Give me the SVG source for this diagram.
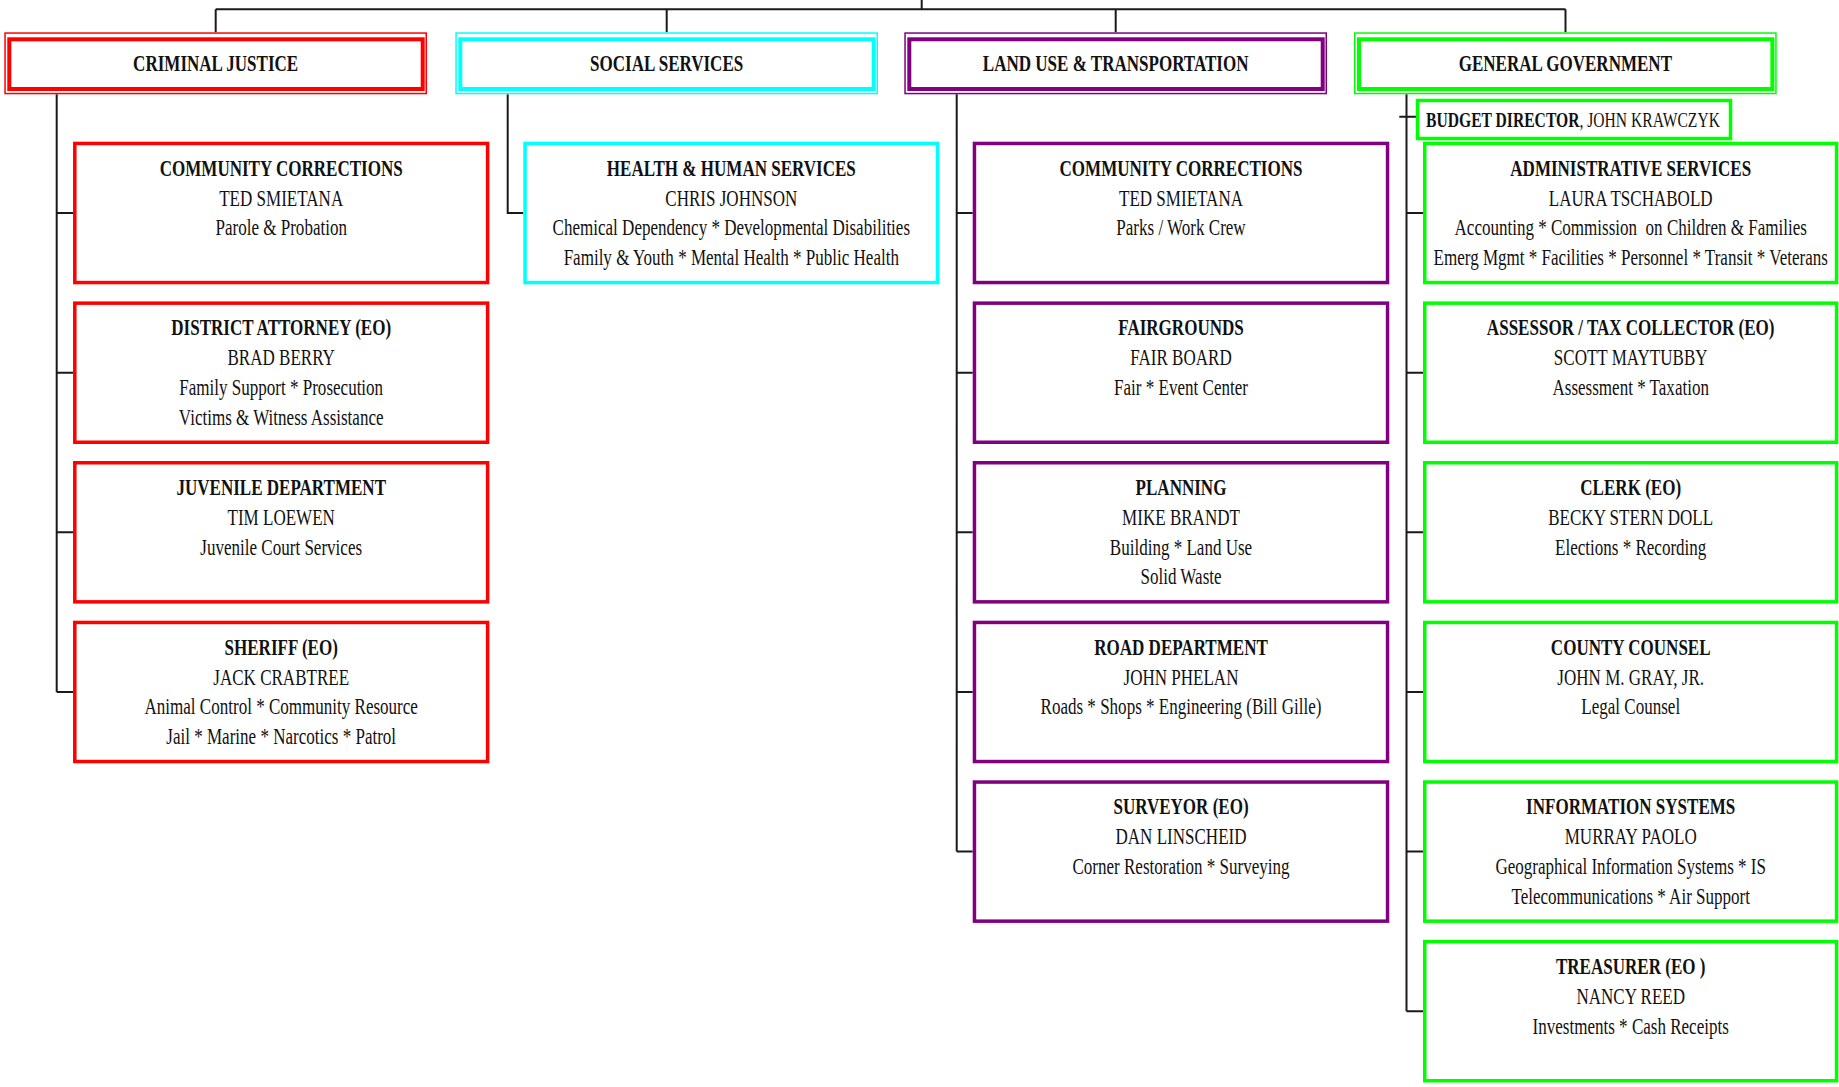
<svg xmlns="http://www.w3.org/2000/svg" width="1839" height="1087" viewBox="0 0 1839 1087">
<style>
.ho{fill:none;stroke-width:1.5}
.hi{fill:#fff;stroke-width:4}
.bx{fill:#fff;stroke-width:3.5}
.red{stroke:#FF0000}
.cyan{stroke:#00FFFF}
.purp{stroke:#800080}
.green{stroke:#00FF00}
.t{font-family:"Liberation Serif","Times New Roman",serif;font-size:24px;text-anchor:middle;fill:#111}
.b{font-weight:bold}
.conn{stroke:#1a1a1a;stroke-width:2;fill:none}
</style>
<rect width="1839" height="1087" fill="#fff"/>
<g id="connectors" class="conn">
<path d="M921.7,0 V9.3 M215.7,9.3 H1565.5 M215.7,9.3 V32.3 M666.7,9.3 V32.3 M1115.7,9.3 V32.3 M1565.5,9.3 V32.3"/>
<path d="M56.7,94.3 V692 M56.7,213 H73 M56.7,372.7 H73 M56.7,532.3 H73 M56.7,692 H73"/>
<path d="M507.7,94.3 V213 H523.3"/>
<path d="M956.7,94.3 V851.6 M956.7,213 H972.7 M956.7,372.7 H972.7 M956.7,532.3 H972.7 M956.7,692 H972.7 M956.7,851.6 H972.7"/>
<path d="M1406.5,94.3 V1011.2 M1399.3,116.7 H1416 M1406.5,213 H1423 M1406.5,372.7 H1423 M1406.5,532.3 H1423 M1406.5,692 H1423 M1406.5,851.6 H1423 M1406.5,1011.2 H1423"/>
</g>

<g id="hdr-criminal-justice">
<rect class="ho red" x="5.05" y="33.05" width="421.2" height="60.5"/>
<rect class="hi red" x="9.3" y="39.3" width="413.4" height="49.7"/>
<g transform="translate(215.65,0) scale(0.71,1)"><text class="t b" x="0" y="71">CRIMINAL JUSTICE</text></g>
</g>
<g id="hdr-social-services">
<rect class="ho cyan" x="456.05" y="33.05" width="421.2" height="60.5"/>
<rect class="hi cyan" x="460.3" y="39.3" width="413.4" height="49.7"/>
<g transform="translate(666.65,0) scale(0.71,1)"><text class="t b" x="0" y="71">SOCIAL SERVICES</text></g>
</g>
<g id="hdr-land-use">
<rect class="ho purp" x="905.05" y="33.05" width="421.2" height="60.5"/>
<rect class="hi purp" x="909.3" y="39.3" width="413.4" height="49.7"/>
<g transform="translate(1115.65,0) scale(0.71,1)"><text class="t b" x="0" y="71">LAND USE &amp; TRANSPORTATION</text></g>
</g>
<g id="hdr-general-government">
<rect class="ho green" x="1354.75" y="33.05" width="421.2" height="60.5"/>
<rect class="hi green" x="1359" y="39.3" width="413.4" height="49.7"/>
<g transform="translate(1565.35,0) scale(0.71,1)"><text class="t b" x="0" y="71">GENERAL GOVERNMENT</text></g>
</g>

<!-- Criminal Justice -->
<g id="cj-community-corrections">
<rect class="bx red" x="74.8" y="143.45" width="412.8" height="139.1"/>
<g transform="translate(281.2,0) scale(0.71,1)">
<text class="t b" x="0" y="175.7">COMMUNITY CORRECTIONS</text>
<text class="t" x="0" y="205.7">TED SMIETANA</text>
<text class="t" x="0" y="235.4">Parole &amp; Probation</text>
</g></g>
<g id="cj-district-attorney">
<rect class="bx red" x="74.8" y="303.15" width="412.8" height="139.1"/>
<g transform="translate(281.2,0) scale(0.71,1)">
<text class="t b" x="0" y="335.4">DISTRICT ATTORNEY (EO)</text>
<text class="t" x="0" y="365.4">BRAD BERRY</text>
<text class="t" x="0" y="395.1">Family Support * Prosecution</text>
<text class="t" x="0" y="424.7">Victims &amp; Witness Assistance</text>
</g></g>
<g id="cj-juvenile">
<rect class="bx red" x="74.8" y="462.75" width="412.8" height="139.1"/>
<g transform="translate(281.2,0) scale(0.71,1)">
<text class="t b" x="0" y="495">JUVENILE DEPARTMENT</text>
<text class="t" x="0" y="525">TIM LOEWEN</text>
<text class="t" x="0" y="554.7">Juvenile Court Services</text>
</g></g>
<g id="cj-sheriff">
<rect class="bx red" x="74.8" y="622.45" width="412.8" height="139.1"/>
<g transform="translate(281.2,0) scale(0.71,1)">
<text class="t b" x="0" y="654.7">SHERIFF (EO)</text>
<text class="t" x="0" y="684.7">JACK CRABTREE</text>
<text class="t" x="0" y="714.4">Animal Control * Community Resource</text>
<text class="t" x="0" y="744">Jail * Marine * Narcotics * Patrol</text>
</g></g>

<!-- Social Services -->
<g id="ss-health-human-services">
<rect class="bx cyan" x="525.05" y="143.45" width="412.5" height="139.1"/>
<g transform="translate(731.3,0) scale(0.71,1)">
<text class="t b" x="0" y="175.7">HEALTH &amp; HUMAN SERVICES</text>
<text class="t" x="0" y="205.7">CHRIS JOHNSON</text>
<text class="t" x="0" y="235.4">Chemical Dependency * Developmental Disabilities</text>
<text class="t" x="0" y="265">Family &amp; Youth * Mental Health * Public Health</text>
</g></g>

<!-- Land Use -->
<g id="lu-community-corrections">
<rect class="bx purp" x="974.45" y="143.45" width="413.1" height="139.1"/>
<g transform="translate(1181,0) scale(0.71,1)">
<text class="t b" x="0" y="175.7">COMMUNITY CORRECTIONS</text>
<text class="t" x="0" y="205.7">TED SMIETANA</text>
<text class="t" x="0" y="235.4">Parks / Work Crew</text>
</g></g>
<g id="lu-fairgrounds">
<rect class="bx purp" x="974.45" y="303.15" width="413.1" height="139.1"/>
<g transform="translate(1181,0) scale(0.71,1)">
<text class="t b" x="0" y="335.4">FAIRGROUNDS</text>
<text class="t" x="0" y="365.4">FAIR BOARD</text>
<text class="t" x="0" y="395.1">Fair * Event Center</text>
</g></g>
<g id="lu-planning">
<rect class="bx purp" x="974.45" y="462.75" width="413.1" height="139.1"/>
<g transform="translate(1181,0) scale(0.71,1)">
<text class="t b" x="0" y="495">PLANNING</text>
<text class="t" x="0" y="525">MIKE BRANDT</text>
<text class="t" x="0" y="554.7">Building * Land Use</text>
<text class="t" x="0" y="584.3">Solid Waste</text>
</g></g>
<g id="lu-road-department">
<rect class="bx purp" x="974.45" y="622.45" width="413.1" height="139.1"/>
<g transform="translate(1181,0) scale(0.71,1)">
<text class="t b" x="0" y="654.7">ROAD DEPARTMENT</text>
<text class="t" x="0" y="684.7">JOHN PHELAN</text>
<text class="t" x="0" y="714.4">Roads * Shops * Engineering (Bill Gille)</text>
</g></g>
<g id="lu-surveyor">
<rect class="bx purp" x="974.45" y="782.05" width="413.1" height="139.1"/>
<g transform="translate(1181,0) scale(0.71,1)">
<text class="t b" x="0" y="814.3">SURVEYOR (EO)</text>
<text class="t" x="0" y="844.3">DAN LINSCHEID</text>
<text class="t" x="0" y="874">Corner Restoration * Surveying</text>
</g></g>

<!-- General Government -->
<g id="gg-budget-director">
<rect class="bx green" x="1417.5" y="100.5" width="313" height="38" stroke-width="3"/>
<g transform="translate(1573,0) scale(0.71,1)">
<text class="t" x="0" y="126.7" style="font-size:22px"><tspan class="b">BUDGET DIRECTOR</tspan>, JOHN KRAWCZYK</text>
</g></g>
<g id="gg-administrative-services">
<rect class="bx green" x="1424.75" y="143.45" width="411.8" height="139.1"/>
<g transform="translate(1630.7,0) scale(0.71,1)">
<text class="t b" x="0" y="175.7">ADMINISTRATIVE SERVICES</text>
<text class="t" x="0" y="205.7">LAURA TSCHABOLD</text>
<text class="t" x="0" y="235.4">Accounting * Commission &#160;on Children &amp; Families</text>
<text class="t" x="0" y="265">Emerg Mgmt * Facilities * Personnel * Transit * Veterans</text>
</g></g>
<g id="gg-assessor">
<rect class="bx green" x="1424.75" y="303.15" width="411.8" height="139.1"/>
<g transform="translate(1630.7,0) scale(0.71,1)">
<text class="t b" x="0" y="335.4">ASSESSOR / TAX COLLECTOR (EO)</text>
<text class="t" x="0" y="365.4">SCOTT MAYTUBBY</text>
<text class="t" x="0" y="395.1">Assessment * Taxation</text>
</g></g>
<g id="gg-clerk">
<rect class="bx green" x="1424.75" y="462.75" width="411.8" height="139.1"/>
<g transform="translate(1630.7,0) scale(0.71,1)">
<text class="t b" x="0" y="495">CLERK (EO)</text>
<text class="t" x="0" y="525">BECKY STERN DOLL</text>
<text class="t" x="0" y="554.7">Elections * Recording</text>
</g></g>
<g id="gg-county-counsel">
<rect class="bx green" x="1424.75" y="622.45" width="411.8" height="139.1"/>
<g transform="translate(1630.7,0) scale(0.71,1)">
<text class="t b" x="0" y="654.7">COUNTY COUNSEL</text>
<text class="t" x="0" y="684.7">JOHN M. GRAY, JR.</text>
<text class="t" x="0" y="714.4">Legal Counsel</text>
</g></g>
<g id="gg-information-systems">
<rect class="bx green" x="1424.75" y="782.05" width="411.8" height="139.1"/>
<g transform="translate(1630.7,0) scale(0.71,1)">
<text class="t b" x="0" y="814.3">INFORMATION SYSTEMS</text>
<text class="t" x="0" y="844.3">MURRAY PAOLO</text>
<text class="t" x="0" y="874">Geographical Information Systems * IS</text>
<text class="t" x="0" y="903.6">Telecommunications * Air Support</text>
</g></g>
<g id="gg-treasurer">
<rect class="bx green" x="1424.75" y="941.65" width="411.8" height="139.1"/>
<g transform="translate(1630.7,0) scale(0.71,1)">
<text class="t b" x="0" y="973.9">TREASURER (EO )</text>
<text class="t" x="0" y="1003.9">NANCY REED</text>
<text class="t" x="0" y="1033.6">Investments * Cash Receipts</text>
</g></g>
</svg>
